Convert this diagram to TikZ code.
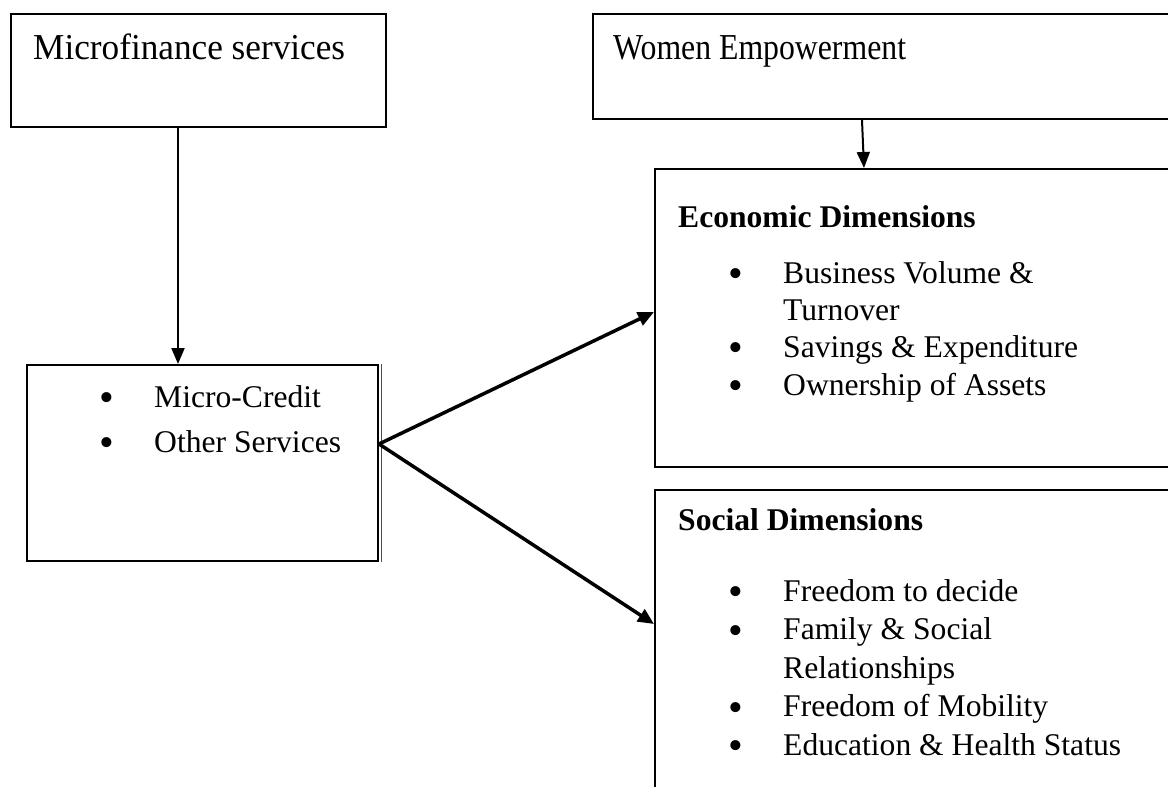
\documentclass[tikz,border=0pt]{standalone}
\usepackage{fontspec}
\setmainfont{Liberation Serif}
\usetikzlibrary{arrows.meta}
\begin{document}
\begin{tikzpicture}[x=1pt,y=-1pt,
  box/.style={draw,line width=2pt,rectangle,anchor=north west,inner sep=0pt},
  txt/.style={anchor=base west,inner sep=0pt,font=\fontsize{31.6}{38}\selectfont},
  head/.style={anchor=base west,inner sep=0pt,font=\fontsize{36.5}{42}\selectfont},
  bul/.style={anchor=base,inner sep=0pt,yshift=-4.5pt,font=\fontsize{42}{42}\selectfont},
  arr/.style={line width=2pt,-{Triangle[length=16pt,width=13pt]}},
  thickarr/.style={line width=3.5pt,-{Triangle[length=16pt,width=14pt]}}]
\clip (0,0) rectangle (1168,787);
\fill[white] (0,0) rectangle (1168,787);
% boxes
\node[box,minimum width=375pt,minimum height=113pt] (mf) at (10,13) {};
\node[box,minimum width=351pt,minimum height=196pt] (mc) at (26,364) {};
\node[box,minimum width=620pt,minimum height=105pt] (we) at (592,13) {};
\node[box,minimum width=600pt,minimum height=298pt] (econ) at (654,168) {};
\node[box,minimum width=600pt,minimum height=340pt] (soc) at (654,489) {};
\draw[line width=1pt,black!70] ([xshift=2.5pt]mc.north east) -- ([xshift=2.5pt]mc.south east);
% texts
\node[head] (mft) at (33,59) {\scalebox{0.965}[1]{Microfinance services}};
\node[head] (wet) at (613,59) {\scalebox{0.87}[1]{Women Empowerment}};
\node[bul] (b1) at (107,407) {\textbullet};
\node[txt] (t1) at (154,407) {Micro-Credit};
\node[bul] (b2) at (107,452) {\textbullet};
\node[txt] (t2) at (154,452) {Other Services};
\node[txt,font=\fontsize{31.6}{38}\selectfont\bfseries] (econt) at (678,227) {Economic Dimensions};
\node[bul] (e1b) at (736,283) {\textbullet};
\node[txt] (e1) at (783,283) {Business Volume \&};
\node[txt] (e1c) at (783,320) {Turnover};
\node[bul] (e2b) at (736,357) {\textbullet};
\node[txt] (e2) at (783,357) {Savings \& Expenditure};
\node[bul] (e3b) at (736,395) {\textbullet};
\node[txt] (e3) at (783,395) {Ownership of Assets};
\node[txt,font=\fontsize{31.6}{38}\selectfont\bfseries] (soct) at (678,530) {Social Dimensions};
\node[bul] (s1b) at (736,601) {\textbullet};
\node[txt] (s1) at (783,601) {Freedom to decide};
\node[bul] (s2b) at (736,639.5) {\textbullet};
\node[txt] (s2) at (783,639.5) {Family \& Social};
\node[txt] (s2c) at (783,678) {Relationships};
\node[bul] (s3b) at (736,716.5) {\textbullet};
\node[txt] (s3) at (783,716.5) {Freedom of Mobility};
\node[bul] (s4b) at (736,755) {\textbullet};
\node[txt] (s4) at (783,755) {Education \& Health Status};
% connectors
\draw[arr] ([xshift=-20.5pt]mf.south) -- ([xshift=-24.5pt]mc.north);
\draw[arr] ([xshift=-41pt]we.south) -- ([xshift=-91pt]econ.north);
\draw[thickarr] ([yshift=19pt]mc.east) -- ([yshift=6pt]econ.west);
\draw[thickarr] ([yshift=19pt]mc.east) -- ([yshift=36pt]soc.west);
\end{tikzpicture}
\end{document}
